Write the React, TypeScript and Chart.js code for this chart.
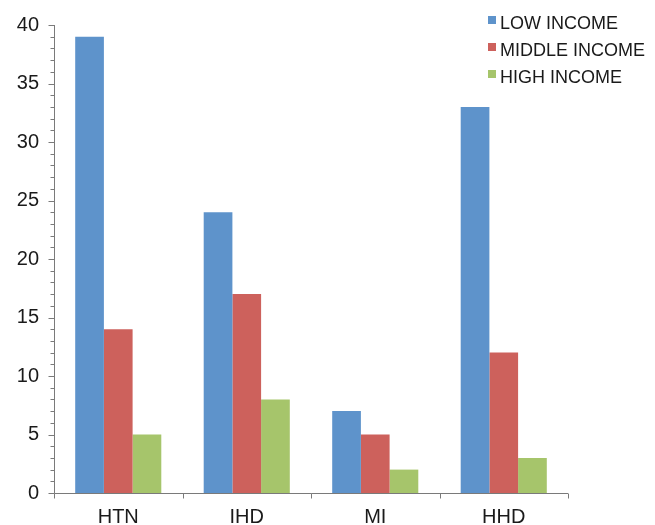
import React, { useEffect, useRef } from "react";
import { Chart, registerables } from "chart.js";

Chart.register(...registerables);

const categories = ["HTN", "IHD", "MI", "HHD"];
const lowIncome = [39, 24, 7, 33];
const middleIncome = [14, 17, 5, 12];
const highIncome = [5, 8, 2, 3];
const seriesLabels = ["LOW INCOME", "MIDDLE INCOME", "HIGH INCOME"];
const seriesColors = ["#5E93CB", "#CD615C", "#A6C56B"];

const FONT = "'Liberation Sans', Arial, Helvetica, sans-serif";
const AXIS = "#7a7a7a";

const minorTicksPlugin = {
  id: "minorTicks",
  afterDraw(chart: any) {
    const ctx = chart.ctx;
    const y = chart.scales.y;
    const x = chart.scales.x;
    ctx.save();
    ctx.strokeStyle = AXIS;
    ctx.lineWidth = 1;
    const ax = Math.round(chart.chartArea.left) + 0.5;
    const ay = Math.round(chart.chartArea.bottom) + 0.5;
    y.ticks.forEach((t: any) => {
      const py = Math.round(y.getPixelForValue(t.value)) + 0.5;
      const len = t.value % 5 === 0 ? 6 : 4;
      ctx.beginPath();
      ctx.moveTo(ax - len, py);
      ctx.lineTo(ax, py);
      ctx.stroke();
    });
    ctx.beginPath();
    ctx.moveTo(ax, chart.chartArea.top);
    ctx.lineTo(ax, ay);
    ctx.lineTo(chart.chartArea.right, ay);
    ctx.stroke();
    const n = categories.length;
    for (let i = 0; i <= n; i++) {
      const px = Math.round(x.left + ((x.right - x.left) * i) / n) + 0.5;
      ctx.beginPath();
      ctx.moveTo(px, ay);
      ctx.lineTo(px, ay + 5);
      ctx.stroke();
    }
    ctx.font = `18px ${FONT}`;
    ctx.textBaseline = "alphabetic";
    ctx.textAlign = "left";
    chart.data.datasets.forEach((ds: any, i: number) => {
      const top = 16 + i * 27;
      ctx.fillStyle = ds.backgroundColor;
      ctx.fillRect(488, top, 8, 8);
      ctx.fillStyle = "#1a1a1a";
      ctx.fillText(ds.label, 500, top + 13);
    });
    ctx.restore();
  },
};

export default function App() {
  const ref = useRef<HTMLCanvasElement>(null);
  useEffect(() => {
    if (!ref.current) return;
    const chart = new Chart(ref.current, {
      type: "bar",
      data: {
        labels: categories,
        datasets: [lowIncome, middleIncome, highIncome].map((d, i) => ({
          label: seriesLabels[i],
          data: d,
          backgroundColor: seriesColors[i],
          borderWidth: 0,
          categoryPercentage: 0.67,
          barPercentage: 1.0,
        })),
      },
      options: {
        responsive: false,
        animation: false,
        layout: { padding: { left: 0, right: 87, top: 25, bottom: 0 } },
        plugins: { legend: { display: false }, tooltip: { enabled: false } },
        scales: {
          x: {
            grid: { display: false, drawOnChartArea: false, drawTicks: false },
            border: { display: false },
            ticks: {
              color: "#1a1a1a",
              font: { family: FONT, size: 20 },
              padding: 12,
            },
            afterFit(scale: any) {
              scale.height = 32;
              scale.paddingLeft = 0;
              scale.paddingRight = 0;
            },
          },
          y: {
            min: 0,
            max: 40,
            grid: { display: false, drawOnChartArea: false, drawTicks: false },
            border: { display: false },
            ticks: {
              stepSize: 1,
              autoSkip: false,
              color: "#1a1a1a",
              font: { family: FONT, size: 20 },
              padding: 15,
              callback: (v: any) => (Number(v) % 5 === 0 ? String(v) : ""),
            },
            afterFit(scale: any) {
              scale.width = 54;
              scale.paddingTop = 0;
              scale.paddingBottom = 0;
            },
          },
        },
      },
      plugins: [minorTicksPlugin],
    });
    return () => chart.destroy();
  }, []);
  return (
    <div style={{ position: "absolute", left: 0, top: 0, background: "#fff" }}>
      <canvas ref={ref} width={655} height={525} style={{ display: "block" }} />
    </div>
  );
}
